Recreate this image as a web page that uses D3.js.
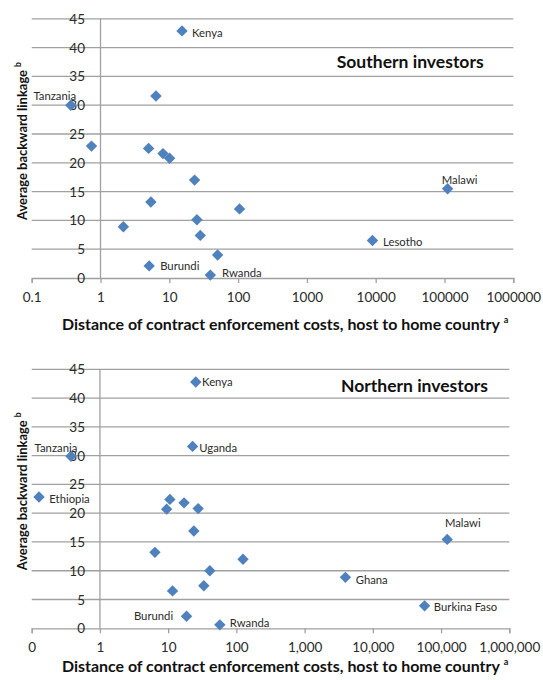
<!DOCTYPE html>
<html>
<head>
<meta charset="utf-8">
<script src="https://cdn.jsdelivr.net/npm/d3@7"></script>
<style>
  body { margin: 0; background: #fff; }
  svg { display: block; }
  text { font-family: Lato, "Open Sans", "Liberation Sans", sans-serif; }
</style>
</head>
<body>
<svg id="chart" width="543" height="680"></svg>
<script>
// ---- data ----
const decades = [0.1, 1, 10, 100, 1000, 10000, 100000, 1000000];
const linkageTicks = [0, 5, 10, 15, 20, 25, 30, 35, 40, 45];
const southTickLabels = ["0.1", "1", "10", "100", "1000", "10000", "100000", "1000000"];
const northTickLabels = ["0", "1", "10", "100", "1,000", "10,000", "100,000", "1,000,000"];

const southNames = ["Kenya", "Tanzania", "", "", "", "", "", "", "", "", "", "", "", "", "Burundi", "Rwanda", "Malawi", "Lesotho"];
const southDistance = [15.3, 0.37, 6.4, 0.74, 5.0, 8.1, 10.1, 23.3, 5.4, 105, 25.2, 2.15, 28.2, 50.4, 5.1, 39.5, 111000, 8980];
const southLinkage = [42.9, 30.0, 31.6, 22.9, 22.5, 21.6, 20.8, 17.0, 13.2, 12.0, 10.1, 8.9, 7.4, 4.0, 2.1, 0.5, 15.5, 6.5];

const northNames = ["Kenya", "Uganda", "Tanzania", "Ethiopia", "", "", "", "", "", "", "", "", "", "", "Burundi", "Rwanda", "Malawi", "Ghana", "Burkina Faso"];
const northDistance = [25.4, 22.8, 0.376, 0.128, 10.6, 17.1, 9.5, 27.5, 23.8, 6.4, 125, 40.8, 33.3, 11.6, 18.6, 57.2, 123000, 3960, 57300];
const northLinkage = [42.8, 31.6, 29.9, 22.8, 22.4, 21.8, 20.7, 20.8, 16.9, 13.2, 12.0, 10.0, 7.4, 6.5, 2.1, 0.6, 15.45, 8.85, 3.9];

const xTitle = "Distance of contract enforcement costs, host to home country";
const yTitle = "Average backward linkage";

// ---- label placement (offsets from the marker) ----
const southLabelPos = {
  "Kenya":    { anchor: "start",  dx: 10,   dy: 2 },
  "Tanzania": { anchor: "middle", dx: -16,  dy: -9.3 },
  "Malawi":   { anchor: "middle", dx: 12,   dy: -9 },
  "Lesotho":  { anchor: "start",  dx: 10.6, dy: 0.7 },
  "Burundi":  { anchor: "start",  dx: 11,   dy: 0 },
  "Rwanda":   { anchor: "start",  dx: 11.7, dy: -2.3 }
};
const northLabelPos = {
  "Kenya":        { anchor: "start",  dx: 6.3,   dy: 0 },
  "Uganda":       { anchor: "start",  dx: 6.7,   dy: 0.7 },
  "Tanzania":     { anchor: "middle", dx: -15,   dy: -8.3 },
  "Ethiopia":     { anchor: "start",  dx: 10.3,  dy: 1.6 },
  "Burundi":      { anchor: "end",    dx: -13.4, dy: -0.3 },
  "Rwanda":       { anchor: "start",  dx: 10,    dy: -2.7 },
  "Malawi":       { anchor: "middle", dx: 15.6,  dy: -16.6 },
  "Ghana":        { anchor: "start",  dx: 10.3,  dy: 2 },
  "Burkina Faso": { anchor: "start",  dx: 9.3,   dy: 1 }
};

const panels = [
  { title: "Southern investors", names: southNames, xs: southDistance, ys: southLinkage,
    tickLabels: southTickLabels, labelPos: southLabelPos,
    left: 31.7, right: 513.3, top: 18.8, bottom: 278, titleX: 336.7, titleY: 61.7, xTitleGap: 45 },
  { title: "Northern investors", names: northNames, xs: northDistance, ys: northLinkage,
    tickLabels: northTickLabels, labelPos: northLabelPos,
    left: 31.7, right: 509.3, top: 369.3, bottom: 628.3, titleX: 341, titleY: 385, xTitleGap: 37 }
];

const gridColor = "#a0a0a0";
const markerColor = "#4f81bd";
const svg = d3.select("#chart");

function fitWidth(node, target) {
  const sel = d3.select(node);
  const fs = parseFloat(sel.attr("font-size"));
  const w = node.getComputedTextLength();
  sel.attr("font-size", (fs * target / w).toFixed(2));
}

panels.forEach(p => {
  const g = svg.append("g");
  const x = d3.scaleLog().domain([0.1, 1000000]).range([p.left, p.right]);
  const y = d3.scaleLinear().domain([0, 45]).range([p.bottom, p.top]);

  // horizontal gridlines
  g.selectAll("line.grid").data(linkageTicks.filter(v => v > 0)).join("line")
    .attr("x1", p.left).attr("x2", p.right)
    .attr("y1", d => y(d)).attr("y2", d => y(d))
    .attr("stroke", gridColor).attr("stroke-width", 1.3);

  // vertical axis, crossing at 1
  g.append("line")
    .attr("x1", x(1)).attr("x2", x(1))
    .attr("y1", y(45)).attr("y2", y(0))
    .attr("stroke", gridColor).attr("stroke-width", 1.3);

  // horizontal axis with decade ticks
  const xAxis = d3.axisBottom(x).tickValues(decades).tickSize(5).tickFormat((d, i) => p.tickLabels[i]);
  const ax = g.append("g").attr("transform", `translate(0,${y(0)})`).call(xAxis);
  ax.select(".domain").attr("stroke", gridColor).attr("stroke-width", 1.3);
  ax.selectAll(".tick line").attr("stroke", gridColor).attr("stroke-width", 1.3);
  ax.selectAll(".tick text")
    .attr("y", 19).attr("dy", "0.35em")
    .attr("font-size", 13.5).attr("fill", "#2a2a2a")
    .style("font-family", "Lato, 'Open Sans', sans-serif");

  // vertical tick labels
  g.selectAll("text.ytick").data(linkageTicks).join("text")
    .attr("x", 85).attr("y", d => y(d))
    .attr("text-anchor", "end").attr("dominant-baseline", "central")
    .attr("font-size", 13.5).attr("fill", "#2a2a2a")
    .text(d => d);

  // panel title
  const t = g.append("text")
    .attr("x", p.titleX).attr("y", p.titleY)
    .attr("dominant-baseline", "central")
    .attr("font-size", 16).attr("font-weight", "bold").attr("fill", "#111")
    .text(p.title);
  fitWidth(t.node(), 147);

  // markers
  const pts = p.xs.map((v, i) => ({ v, l: p.ys[i], name: p.names[i] }));
  const r = 5.7;
  g.selectAll("path.pt").data(pts).join("path")
    .attr("transform", d => `translate(${x(d.v)},${y(d.l)})`)
    .attr("d", `M0,${-r}L${r},0L0,${r}L${-r},0Z`)
    .attr("fill", markerColor);

  // country labels
  g.selectAll("text.lbl").data(pts.filter(d => d.name)).join("text")
    .attr("x", d => x(d.v) + p.labelPos[d.name].dx)
    .attr("y", d => y(d.l) + p.labelPos[d.name].dy)
    .attr("text-anchor", d => p.labelPos[d.name].anchor)
    .attr("dominant-baseline", "central")
    .attr("font-size", 11.3).attr("fill", "#2a2a2a")
    .text(d => d.name);

  // x axis title with superscript
  const xt = g.append("text")
    .attr("x", 62).attr("y", p.bottom + p.xTitleGap)
    .attr("dominant-baseline", "central")
    .attr("font-weight", "bold").attr("fill", "#111");
  const xMain = xt.append("tspan").attr("font-size", 15).text(xTitle);
  xt.append("tspan").attr("font-size", 9).attr("dx", 4).attr("dy", -4).text("a");
  fitWidth(xMain.node(), 438);

  // y axis title with superscript
  const yt = g.append("text")
    .attr("transform", `translate(22,${p.bottom - 58}) rotate(-90)`)
    .attr("dominant-baseline", "central")
    .attr("font-weight", "bold").attr("fill", "#111");
  const yMain = yt.append("tspan").attr("font-size", 14).text(yTitle);
  yt.append("tspan").attr("font-size", 8.5).attr("dx", 3).attr("dy", -4).text("b");
  fitWidth(yMain.node(), 150);
});
</script>
</body>
</html>
